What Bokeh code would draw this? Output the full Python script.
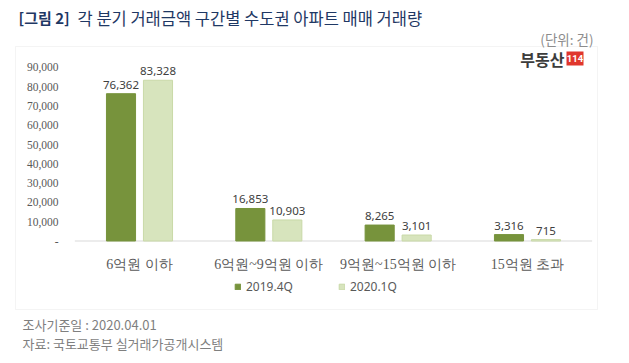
from bokeh.plotting import figure
from bokeh.models import (ColumnDataSource, Range1d, Label, LabelSet, BoxAnnotation,
                          Legend, LegendItem)
from bokeh.core.properties import value
from bokeh.embed import file_html
from bokeh.resources import INLINE

# ---- data ----
categories = ["6억원 이하", "6억원~9억원 이하", "9억원~15억원 이하", "15억원 초과"]
series_names = ["2019.4Q", "2020.1Q"]
q2019_4 = [76362, 16853, 8265, 3316]
q2020_1 = [83328, 10903, 3101, 715]
y_ticks = [0, 10000, 20000, 30000, 40000, 50000, 60000, 70000, 80000, 90000]
y_tick_labels = ["-", "10,000", "20,000", "30,000", "40,000", "50,000",
                 "60,000", "70,000", "80,000", "90,000"]

title_tag = "[그림 2]"
title_text = "각 분기 거래금액 구간별 수도권 아파트 매매 거래량"
unit_text = "(단위: 건)"
footer1 = "조사기준일 : 2020.04.01"
footer2 = "자료: 국토교통부 실거래가공개시스템"

# ---- layout ----
W, H = 629, 363
KR = "Noto Sans CJK KR"
NUM = "Noto Sans"
DARK = "#77933c"
LIGHT = "#d7e4bd"
GREY = "#595959"
OFF = 0.143      # dodge of the two series, in category units
BW = 0.225       # bar width, in category units


def sy(py):
    """page pixel row -> screen units (measured from bottom of frame)"""
    return H - py


pos = list(range(len(categories)))

# the frame covers the whole canvas; the data scales are set so that
# category i sits at page x = 139 + 129.33*i, value 0 at page y = 240.5
XU, X0 = 129.33, 139.0
YU, Y0 = 1.929 / 1000.0, 240.5
p = figure(width=W, height=H, output_backend="svg", toolbar_location=None,
           x_range=Range1d(-X0 / XU, (W - X0) / XU),
           y_range=Range1d(-(H - Y0) / YU, Y0 / YU),
           x_axis_location=None, y_axis_location=None,
           min_border=0, min_border_left=0, min_border_right=0,
           min_border_top=0, min_border_bottom=0)
p.outline_line_color = None
p.background_fill_color = "white"
p.border_fill_color = "white"
p.xgrid.grid_line_color = None
p.ygrid.grid_line_color = None

src = ColumnDataSource(dict(
    pos=pos, cat=categories,
    xa=[i - OFF for i in pos], xb=[i + OFF for i in pos],
    a=q2019_4, b=q2020_1,
    a_lbl=[f"{v:,}" for v in q2019_4], b_lbl=[f"{v:,}" for v in q2020_1]))

# outer box
p.add_layout(BoxAnnotation(left=15, right=597, top=sy(46), bottom=sy(309),
                           left_units="screen", right_units="screen",
                           top_units="screen", bottom_units="screen",
                           fill_alpha=0, line_color="#d9d9d9", line_width=1,
                           level="underlay"))

# x axis line across the category band
p.segment(x0=[pos[0] - 0.5], x1=[pos[-1] + 0.5], y0=[0], y1=[0],
          line_color="#d9d9d9", line_width=1)

r1 = p.vbar(x="xa", top="a", width=BW, source=src,
            fill_color=DARK, line_color=DARK)
r2 = p.vbar(x="xb", top="b", width=BW, source=src,
            fill_color=LIGHT, line_color="#c9d9a8")

for xcol, col, lbl in (("xa", "a", "a_lbl"), ("xb", "b", "b_lbl")):
    p.text(x=xcol, y=col, text=lbl, source=src,
           text_align="center", text_baseline="bottom", y_offset=-5,
           text_font=value(NUM), text_font_size="11.5px", text_color="#404040")

# y tick labels (value axis)
tick_src = ColumnDataSource(dict(t=y_ticks, lbl=y_tick_labels))
p.add_layout(LabelSet(x=58, y="t", text="lbl", source=tick_src,
                      x_units="screen", y_units="data",
                      text_align="right", text_baseline="middle",
                      text_font=NUM, text_font_size="11.5px", text_color=GREY))

# category labels
p.add_layout(LabelSet(x="pos", y=sy(264), text="cat", source=src,
                      x_units="data", y_units="screen",
                      text_align="center", text_baseline="middle",
                      text_font=KR, text_font_size="14px", text_color=GREY))

# legend
legend = Legend(items=[LegendItem(label=series_names[0], renderers=[r1]),
                       LegendItem(label=series_names[1], renderers=[r2])],
                orientation="horizontal", location=(234, sy(295)),
                glyph_width=7, glyph_height=7, label_height=12, label_standoff=5,
                spacing=45, padding=0, margin=0, border_line_color=None,
                background_fill_alpha=0, label_text_font=NUM,
                label_text_font_size="12px", label_text_color=GREY,
                label_text_baseline="middle")
p.add_layout(legend, "center")

# title
p.add_layout(Label(x=18, y=sy(17), x_units="screen", y_units="screen", text=title_tag,
                   text_font=KR, text_font_size="15px", text_font_style="bold",
                   text_color="#1f3864", text_baseline="middle", text_align="left"))
p.add_layout(Label(x=77, y=sy(17), x_units="screen", y_units="screen", text=title_text,
                   text_font=KR, text_font_size="16.5px",
                   text_color="#1f3864", text_baseline="middle", text_align="left"))
p.add_layout(Label(x=593, y=sy(38), x_units="screen", y_units="screen", text=unit_text,
                   text_font=KR, text_font_size="13.5px", text_color="#8c8c8c",
                   text_baseline="middle", text_align="right"))

# logo
p.add_layout(Label(x=564, y=sy(58), x_units="screen", y_units="screen", text="부동산",
                   text_font=KR, text_font_size="16px", text_font_style="bold",
                   text_color="#3c3c3c", text_baseline="middle", text_align="right"))
p.add_layout(BoxAnnotation(left=566, right=583, top=sy(51), bottom=sy(65),
                           left_units="screen", right_units="screen",
                           top_units="screen", bottom_units="screen",
                           fill_color="#e0362c", fill_alpha=1, line_color=None))
p.add_layout(Label(x=574.5, y=sy(58), x_units="screen", y_units="screen", text="114",
                   text_font="Roboto", text_font_size="9.5px", text_font_style="bold",
                   text_color="white", text_baseline="middle", text_align="center"))

# footer
p.add_layout(Label(x=22, y=sy(324), x_units="screen", y_units="screen", text=footer1,
                   text_font=KR, text_font_size="13px", text_color="#7f7f7f",
                   text_baseline="middle", text_align="left"))
p.add_layout(Label(x=22, y=sy(343), x_units="screen", y_units="screen", text=footer2,
                   text_font=KR, text_font_size="13px", text_color="#7f7f7f",
                   text_baseline="middle", text_align="left"))

open("out.html", "w").write(file_html(p, INLINE))
